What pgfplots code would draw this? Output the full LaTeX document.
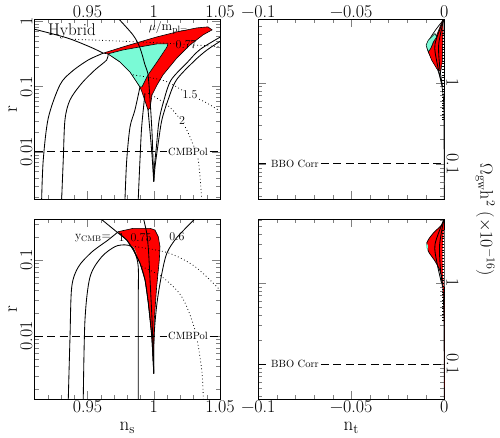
\documentclass[border=0pt]{standalone}
\usepackage{fontspec}
\usepackage{pgfplots}
\pgfplotsset{compat=1.18}
\definecolor{myred}{RGB}{255,0,0}
\definecolor{mycyan}{RGB}{122,250,214}
\newcommand{\tk}{\fontsize{18}{20}\selectfont}
\newcommand{\lbl}{\fontsize{12}{14}\selectfont}
\newcommand{\sml}{\fontsize{10.5}{12}\selectfont}
\pgfplotsset{
 myLeft/.style={scale only axis, anchor=south west,
   axis line style={line width=0.8pt},
   major tick length=8pt, minor tick length=4pt,
   tick label style={font=\tk},
   xticklabel style={inner sep=1.5pt},
   xtick pos=both, ytick pos=both,
   width=185.5pt, xmin=0.91, xmax=1.05,
   xtick={0.95,1,1.05}, xticklabels={0.95,1,1.05},
   minor xtick={0.91,0.92,0.93,0.94,0.96,0.97,0.98,0.99,1.01,1.02,1.03,1.04},
   ytick={0.01,0.1,1}, yticklabels={0.01,0.1,1},
   minor ytick={0.002,0.003,0.004,0.005,0.006,0.007,0.008,0.009,0.02,0.03,0.04,0.05,0.06,0.07,0.08,0.09,0.2,0.3,0.4,0.5,0.6,0.7,0.8,0.9},
   yticklabel pos=left, yticklabel style={rotate=90, anchor=south, inner sep=2pt},
   ylabel={r}, ylabel style={font=\fontsize{19}{21}\selectfont, inner sep=0pt, at={(axis description cs:-0.118,0.5)}, anchor=center}},
 myRight/.style={scale only axis, anchor=south west,
   axis line style={line width=0.8pt},
   major tick length=8pt, minor tick length=4pt,
   tick label style={font=\tk},
   xticklabel style={inner sep=1.5pt},
   xtick pos=both, ytick pos=both,
   width=186pt, xmin=-0.1, xmax=0, ymin=0.037, ymax=6.1,
   xtick={-0.1,-0.05,0}, xticklabels={−0.1,−0.05,0},
   minor xtick={-0.09,-0.08,-0.07,-0.06,-0.04,-0.03,-0.02,-0.01},
   ytick={0.1,1}, yticklabels={0.1,1},
   minor ytick={0.04,0.05,0.06,0.07,0.08,0.09,0.2,0.3,0.4,0.5,0.6,0.7,0.8,0.9,2,3,4,5,6},
   yticklabel pos=right, yticklabel style={rotate=-90, anchor=south, inner sep=2pt}},
}
\tikzset{
 crv/.style={black, line width=0.85pt, smooth},
 dott/.style={black, line width=0.8pt, dash pattern=on 0.8pt off 2.6pt, smooth},
 dsh/.style={black, line width=0.9pt, dash pattern=on 8pt off 4.5pt},
 strip/.style={black, line width=2.2pt, dash pattern=on 0.6pt off 2.2pt},
}
\begin{document}
\begin{tikzpicture}
\useasboundingbox (0pt,0pt) rectangle (500pt,437pt);
% ---------------- top left ----------------
\begin{axis}[myLeft, ymode=log, at={(34.5pt,238pt)}, height=180pt, ymin=0.0019, ymax=1.08, xticklabel pos=upper]
\addplot[fill=myred, draw=black, line width=0.6pt] coordinates {
(0.9619,0.324)(0.9768,0.404)(0.9896,0.482)(1.0025,0.575)(1.0175,0.686)(1.0326,0.79)(1.0409,0.818)(1.0440,0.736)(1.0372,0.617)(1.0274,0.434)(1.0175,0.274)(1.0070,0.151)(1.0025,0.106)(0.9987,0.0744)(0.9972,0.047)(0.9957,0.0438)(0.9911,0.0827)(0.9896,0.0986)(0.9821,0.167)(0.9745,0.238)(0.9655,0.316)(0.9619,0.324)};
\addplot[fill=mycyan, draw=black, line width=0.6pt] coordinates {
(0.9655,0.316)(0.9768,0.363)(0.9896,0.404)(1.0025,0.449)(1.0107,0.449)(1.0100,0.404)(1.0025,0.238)(0.9957,0.151)(0.9911,0.0986)(0.9896,0.0986)(0.9821,0.167)(0.9745,0.238)(0.9655,0.316)};
\addplot[crv] coordinates {(0.9154,0.0019)(0.9166,0.0075)(0.9204,0.033)(0.9292,0.106)(0.9381,0.169)(0.9506,0.255)(0.9619,0.324)};
\addplot[crv] coordinates {(0.9305,0.0019)(0.9317,0.0075)(0.9330,0.031)(0.9368,0.0624)(0.9456,0.112)(0.9557,0.180)(0.9645,0.255)(0.9655,0.316)};
\addplot[crv] coordinates {(0.9934,0.0789)(0.9909,0.0244)(0.9896,0.0075)(0.9883,0.0019)};
\addplot[crv] coordinates {(0.905,0.80)(0.91,0.754)(0.9345,0.555)(0.9519,0.404)(0.9619,0.324)};
\addplot[crv] coordinates {(0.9896,0.0986)(0.9858,0.0438)(0.9821,0.0241)(0.9796,0.0075)(0.9783,0.0019)};
\addplot[crv] coordinates {(0.9715,1.2)(0.9843,0.617)(0.9896,0.39)(0.9934,0.214)(0.9957,0.151)(0.9972,0.0624)(0.9987,0.0195)(0.9997,0.0053)(1.0,0.0035)};
\addplot[crv] coordinates {(0.9957,0.0438)(0.9985,0.01)(1.0,0.0035)};
\addplot[crv] coordinates {(1.052,0.60)(1.035,0.37)(1.025,0.23)(1.013,0.125)(1.0075,0.06)(1.004,0.03)(1.002,0.012)(1.0005,0.006)(1.0,0.0035)};
\addplot[crv] coordinates {(1.052,0.52)(1.04,0.36)(1.03,0.24)(1.017,0.125)(1.0105,0.06)(1.006,0.03)(1.003,0.012)(1.001,0.006)(1.0,0.0035)};
\addplot[dott] coordinates {(0.938,0.53)(0.97,0.50)(1.0,0.47)(1.025,0.44)(1.05,0.408)};
\addplot[dott] coordinates {(0.9843,0.151)(1.006,0.126)(1.016,0.102)(1.0274,0.0744)(1.0387,0.058)(1.0487,0.0438)};
\addplot[dott] coordinates {(0.9959,0.079)(1.0085,0.0555)(1.016,0.04)(1.0236,0.0243)(1.029,0.014)(1.0336,0.0075)(1.0362,0.0019)};
\addplot[dsh] coordinates {(0.91,0.01)(1.05,0.01)};
\node[font=\sml, fill=white, inner sep=1.5pt] at (1.0259,0.01) {CMBPol};
\node[font=\fontsize{17}{19}\selectfont] at (0.9383,0.69) {Hybrid};
\node[font=\fontsize{13}{15}\selectfont] at (1.0110,0.80) {$\mu/\mathrm{m}_{\mathrm{pl}=}$};
\node[font=\lbl, inner sep=0.5pt] at (1.0244,0.445) {0.77};
\node[font=\lbl, fill=white, inner sep=0.5pt] at (1.0274,0.0744) {1.5};
\node[font=\lbl, fill=white, inner sep=0.5pt] at (1.0213,0.0307) {2};
\end{axis}
% ---------------- top right ----------------
\begin{axis}[myRight, ymode=log, at={(258.3pt,238pt)}, height=180pt, xticklabel pos=upper]
\addplot[fill=white, draw=black, line width=0.7pt, smooth] coordinates {(-0.0003,6.0)(-0.0041,4.67)(-0.0077,3.52)(-0.0095,2.91)(-0.0086,2.41)(-0.0059,1.81)(-0.0032,1.37)(-0.0014,0.94)(-0.0005,0.65)(-0.0002,0.40)(-0.0001,0.13)(0,0.037)};
\addplot[fill=myred, draw=black, line width=0.5pt] coordinates {(-0.0009,5.9)(-0.0041,3.86)(-0.0073,2.65)(-0.0086,2.41)(-0.0068,1.9)(-0.0041,1.5)(-0.0019,1.37)(-0.0011,1.81)(-0.0007,3.86)(-0.0006,5.9)(-0.0009,5.9)};
\addplot[fill=mycyan, draw=black, line width=0.5pt] coordinates {(-0.005,4.05)(-0.0086,3.35)(-0.0098,2.91)(-0.0086,2.41)(-0.0073,2.65)(-0.0059,3.19)(-0.0041,3.68)(-0.005,4.05)};
\addplot[crv] coordinates {(-0.0003,6.0)(-0.005,3.0)(-0.004,1.8)(-0.0015,1.0)};
\addplot[crv] coordinates {(-0.0003,6.0)(-0.003,3.0)(-0.0025,1.6)(-0.001,0.9)};
\addplot[strip] coordinates {(-0.0006,4.5)(-0.0006,0.35)};
\addplot[dsh] coordinates {(-0.1,0.1)(0,0.1)};
\node[font=\sml, fill=white, inner sep=1.5pt] at (-0.0803,0.1) {BBO Corr};
\end{axis}
% ---------------- bottom left ----------------
\begin{axis}[myLeft, ymode=log, at={(34.5pt,38pt)}, height=179.7pt, ymin=0.00148, ymax=0.343,
  xlabel={$\mathrm{n}_\mathrm{s}$}, xlabel style={font=\fontsize{19}{21}\selectfont, inner sep=0pt, at={(axis description cs:0.5,-0.16)}, anchor=center}]
\addplot[fill=myred, draw=black, line width=0.6pt] coordinates {
(0.9733,0.236)(0.9846,0.261)(0.9972,0.261)(1.0009,0.248)(1.0034,0.203)(1.0047,0.150)(1.0042,0.1)(1.0022,0.0446)(1.0004,0.0163)(1.0,0.0059)(1.0,0.0032)(0.9985,0.0098)(0.9959,0.0269)(0.9934,0.0546)(0.9896,0.0906)(0.9846,0.135)(0.9796,0.183)(0.9745,0.220)(0.9733,0.236)};
\addplot[fill=mycyan, draw=none] coordinates {(0.9834,0.155)(0.9855,0.140)(0.9875,0.115)(0.986,0.13)(0.9845,0.145)(0.9834,0.155)};
\addplot[crv] coordinates {(0.9355,0.00148)(0.9368,0.0097)(0.9381,0.0441)(0.9431,0.081)(0.9532,0.127)(0.9655,0.183)(0.9733,0.236)};
\addplot[crv] coordinates {(0.959,0.36)(0.9733,0.225)(0.9796,0.183)(0.9846,0.135)(0.9896,0.0906)(0.9934,0.0546)(0.9959,0.0269)(0.9985,0.0098)(1.0,0.0032)};
\addplot[crv] coordinates {(0.9921,0.36)(0.9947,0.225)(0.996,0.135)(0.9972,0.0546)(0.9987,0.0163)(0.9997,0.005)(1.0,0.0032)};
\addplot[crv] coordinates {(1.032,0.36)(1.0175,0.198)(1.01,0.124)(1.0062,0.0677)(1.0025,0.0276)(1.0002,0.0097)(1.0,0.0032)};
\addplot[crv] coordinates {(0.9468,0.00148)(0.9481,0.0163)(0.9519,0.0597)(0.9607,0.110)(0.9708,0.150)(0.9783,0.158)(0.9834,0.150)(0.9859,0.124)(0.9883,0.081)(0.9883,0.027)(0.9883,0.00148)};
\addplot[dott] coordinates {(0.9859,0.150)(1.011,0.124)(1.0312,0.0817)(1.05,0.0403)};
\addplot[dott] coordinates {(0.9909,0.0817)(1.006,0.0603)(1.0211,0.0329)(1.0311,0.012)(1.0362,0.00357)(1.0374,0.00148)};
\addplot[dsh] coordinates {(0.91,0.01)(1.05,0.01)};
\node[font=\sml, fill=white, inner sep=1.5pt] at (1.0259,0.01) {CMBPol};
\node[font=\lbl] at (0.9541,0.195) {y$_{\mathrm{CMB}}$=};
\node[font=\lbl] at (0.9757,0.195) {1};
\node[font=\lbl] at (0.9904,0.20) {0.75};
\node[font=\lbl] at (1.0175,0.20) {0.6};
\end{axis}
% ---------------- bottom right ----------------
\begin{axis}[myRight, ymode=log, at={(258.3pt,38pt)}, height=179.7pt,
  xlabel={$\mathrm{n}_\mathrm{t}$}, xlabel style={font=\fontsize{19}{21}\selectfont, inner sep=0pt, at={(axis description cs:0.5,-0.16)}, anchor=center}]
\addplot[fill=myred, draw=black, line width=0.7pt, smooth] coordinates {(-0.0003,6.0)(-0.0014,5.21)(-0.0059,4.13)(-0.0086,3.42)(-0.0095,3.11)(-0.0086,2.46)(-0.005,1.86)(-0.0023,1.40)(-0.0009,0.96)(-0.0002,0.376)(-0.0001,0.11)(0,0.038)};
\addplot[fill=mycyan, draw=none] coordinates {(-0.0095,3.11)(-0.0098,2.8)(-0.009,2.5)(-0.0088,2.9)(-0.0095,3.11)};
\addplot[fill=white, draw=none] coordinates {(-0.0003,4.5)(-0.0009,2.5)(-0.0008,1.4)(-0.0003,0.9)(0,0.9)(0,4.5)};
\addplot[crv] coordinates {(-0.0003,6.0)(-0.005,3.0)(-0.004,1.8)(-0.0015,1.0)};
\addplot[crv] coordinates {(-0.0003,6.0)(-0.0025,3.0)(-0.0022,1.6)(-0.001,0.9)};
\addplot[strip] coordinates {(-0.0006,4.5)(-0.0006,0.35)};
\addplot[dsh] coordinates {(-0.1,0.1)(0,0.1)};
\node[font=\sml, fill=white, inner sep=1.5pt] at (-0.0803,0.1) {BBO Corr};
\end{axis}
\node[rotate=-90, font=\fontsize{18}{20}\selectfont] at (485pt,217pt) {$\Omega_{\mathrm{gw}}\mathrm{h}^2$\ ($\times$10$^{-16}$)};
\end{tikzpicture}
\end{document}
